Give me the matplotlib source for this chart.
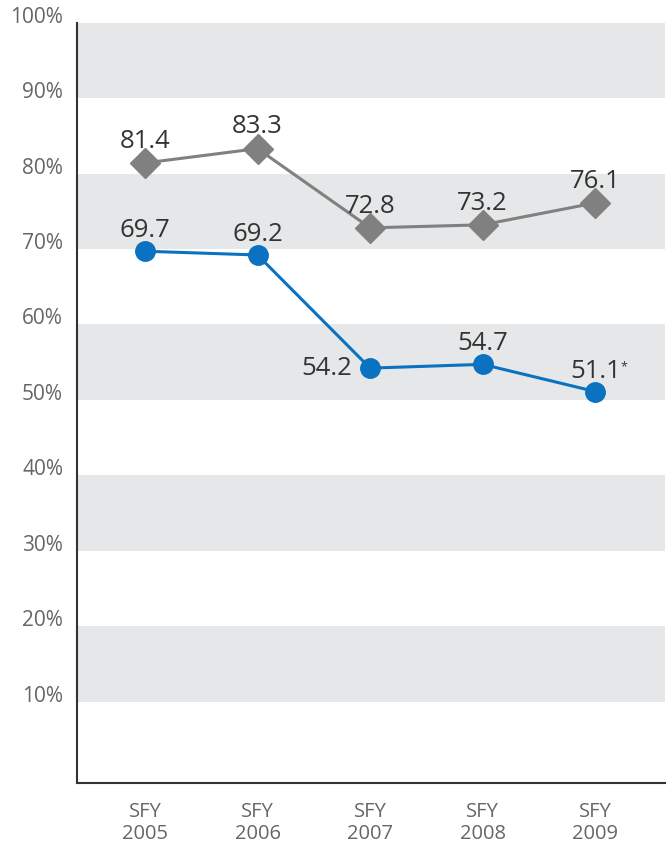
import numpy as np
import matplotlib
matplotlib.use("Agg")
from matplotlib import pyplot as plt

# data
years = ["SFY\n2005", "SFY\n2006", "SFY\n2007", "SFY\n2008", "SFY\n2009"]
grey_vals = [81.4, 83.3, 72.8, 73.2, 76.1]
blue_vals = [69.7, 69.2, 54.2, 54.7, 51.1]
blue_labels = ["69.7", "69.2", "54.2", "54.7", "51.1"]
grey_labels = ["81.4", "83.3", "72.8", "73.2", "76.1"]
y_ticks = [10, 20, 30, 40, 50, 60, 70, 80, 90, 100]

plt.rcParams["font.family"] = ["Open Sans", "DejaVu Sans"]

fig = plt.figure(figsize=(6.67, 8.46), dpi=100)
ax = fig.add_axes([0.1154, 0.0745, 0.997 - 0.1154, 0.9732 - 0.0745])

x = np.arange(len(years))

# grey bands
for lo in [10, 30, 50, 70, 90]:
    ax.axhspan(lo, lo + 10, color="#e6e7e8", lw=0, zorder=0)

ax.plot(x, grey_vals, color="#808080", lw=2.2, marker="D", ms=15,
        mfc="#808080", mec="#808080", zorder=3)
ax.plot(x, blue_vals, color="#0a72c0", lw=2.2, marker="o", ms=14,
        mfc="#0a72c0", mec="#0a72c0", zorder=3)

lab_kw = dict(fontsize=18.5, color="#333333", ha="center", va="baseline")
for i, (v, s) in enumerate(zip(grey_vals, grey_labels)):
    ax.annotate(s, (i, v), xytext=(0, 11), textcoords="offset points", **lab_kw)
for i, (v, s) in enumerate(zip(blue_vals, blue_labels)):
    if i == 2:
        ax.annotate(s, (i, v), xytext=(-13, 0), textcoords="offset points",
                    fontsize=18.5, color="#333333", ha="right", va="center")
    elif i == 4:
        ax.annotate(s, (i, v), xytext=(0, 10), textcoords="offset points", **lab_kw)
        ax.annotate("*", (i, v), xytext=(18, 15), textcoords="offset points",
                    fontsize=9, color="#333333", ha="left", va="baseline")
    else:
        ax.annotate(s, (i, v), xytext=(0, 10), textcoords="offset points", **lab_kw)

ax.set_xlim(-0.604, 4.62)
ax.set_ylim(-0.8, 100)
ax.set_yticks(y_ticks)
ax.set_yticklabels([f"{t}%" for t in y_ticks], fontsize=15, color="#666666")
for lbl in ax.get_yticklabels():
    lbl.set_verticalalignment("baseline")
ax.set_xticks(x)
ax.set_xticklabels(years, fontsize=14.5, color="#666666", linespacing=1.1)
ax.tick_params(axis="y", length=0, pad=10)
ax.tick_params(axis="x", length=0, pad=14)

for side in ["top", "right"]:
    ax.spines[side].set_visible(False)
for side in ["left", "bottom"]:
    ax.spines[side].set_color("#333333")
    ax.spines[side].set_linewidth(1.5)

fig.savefig("out.png", dpi=100)
